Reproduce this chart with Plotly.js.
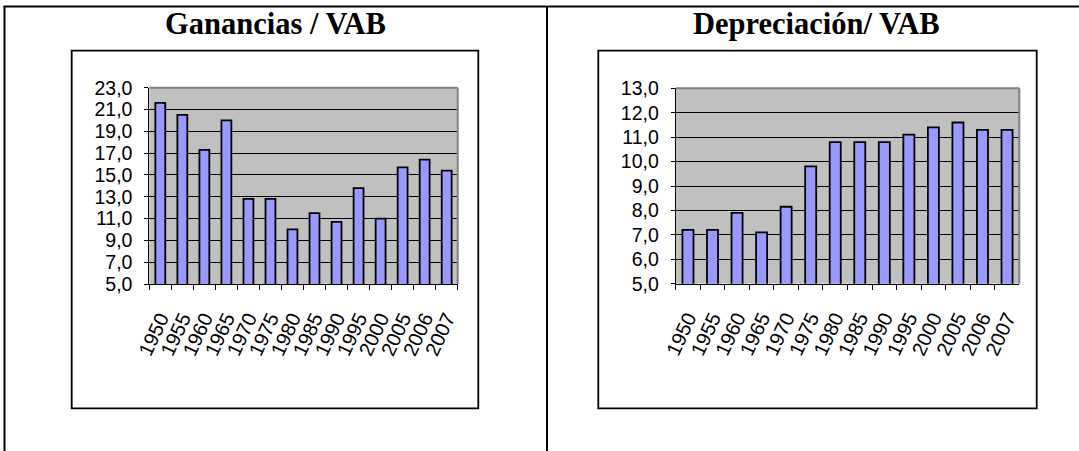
<!DOCTYPE html>
<html>
<head>
<meta charset="utf-8">
<script src="https://cdn.plot.ly/plotly-3.0.1.min.js"></script>
<style>
  html, body { margin: 0; padding: 0; background: #ffffff; }
  #chart { width: 1079px; height: 451px; }
</style>
</head>
<body>
<div id="chart"></div>
<script>
// ---- Data ----
const years = ["1950", "1955", "1960", "1965", "1970", "1975", "1980", "1985", "1990", "1995", "2000", "2005", "2006", "2007"];
const gananciasVAB = [21.6, 20.5, 17.3, 20.0, 12.8, 12.8, 10.0, 11.5, 10.7, 13.8, 11.0, 15.7, 16.4, 15.4];
const depreciacionVAB = [7.2, 7.2, 7.9, 7.1, 8.15, 9.8, 10.8, 10.8, 10.8, 11.1, 11.4, 11.6, 11.3, 11.3];
const titleLeft = "Ganancias / VAB";
const titleRight = "Depreciación/ VAB";

// ---- Geometry helpers (pixels -> paper fractions) ----
const W = 1079, H = 451;
const px = x => x / W;
const py = y => 1 - y / H;

const barStyle = { color: "#9999FF", line: { color: "#000000", width: 1.8 } };
const yTickFont = { family: "Liberation Sans, Arial, sans-serif", size: 19.5, color: "#000000" };
const xTickFont = { family: "Liberation Sans, Arial, sans-serif", size: 20, color: "#000000" };

const traces = [
  { type: "bar", x: years, y: gananciasVAB, xaxis: "x", yaxis: "y", marker: barStyle, hoverinfo: "x+y" },
  { type: "bar", x: years, y: depreciacionVAB, xaxis: "x2", yaxis: "y2", marker: barStyle, hoverinfo: "x+y" }
];

function xAxis(d0, d1, anchor) {
  return {
    type: "category", domain: [px(d0), px(d1)], anchor: anchor,
    tickmode: "linear", tick0: 0, dtick: 1,
    showline: true, linecolor: "#000000", linewidth: 1,
    ticks: "outside", ticklen: 5, tickcolor: "#000000", tickwidth: 1,
    tickson: "boundaries", tickangle: -65, tickfont: xTickFont,
    ticklabelstandoff: 14, showgrid: false, fixedrange: true
  };
}
function yAxis(d0, d1, anchor, range, dtick) {
  return {
    domain: [py(d1), py(d0)], anchor: anchor, range: range,
    tick0: range[0], dtick: dtick, tickformat: ".1f",
    showline: true, linecolor: "#000000", linewidth: 1,
    ticks: "outside", ticklen: 4, tickcolor: "#000000", tickwidth: 1,
    tickfont: yTickFont, ticklabelstandoff: 8,
    showgrid: true, gridcolor: "#000000", gridwidth: 1,
    zeroline: false, fixedrange: true
  };
}

const lineBlack = { color: "#000000", width: 2 };
const shapes = [
  // table lines
  { type: "line", xref: "paper", yref: "paper", x0: px(3.5), x1: px(1079), y0: py(6.5), y1: py(6.5), line: lineBlack },
  { type: "line", xref: "paper", yref: "paper", x0: px(4.5), x1: px(4.5), y0: py(6.5), y1: py(451), line: lineBlack },
  { type: "line", xref: "paper", yref: "paper", x0: px(547), x1: px(547), y0: py(6.5), y1: py(451), line: lineBlack },
  // chart boxes
  { type: "rect", xref: "paper", yref: "paper", x0: px(71.7), x1: px(478.3), y0: py(408.3), y1: py(50.7), line: { color: "#000000", width: 1.8 } },
  { type: "rect", xref: "paper", yref: "paper", x0: px(598.3), x1: px(1036.7), y0: py(408.3), y1: py(50.7), line: { color: "#000000", width: 1.8 } },
  // plot area gray borders (top & right)
  { type: "line", xref: "x domain", yref: "y domain", x0: 0, x1: 1, y0: 1, y1: 1, line: { color: "#808080", width: 2 } },
  { type: "line", xref: "x domain", yref: "y domain", x0: 1, x1: 1, y0: 0, y1: 1, line: { color: "#808080", width: 2 } },
  { type: "line", xref: "x2 domain", yref: "y2 domain", x0: 0, x1: 1, y0: 1, y1: 1, line: { color: "#808080", width: 2 } },
  { type: "line", xref: "x2 domain", yref: "y2 domain", x0: 1, x1: 1, y0: 0, y1: 1, line: { color: "#808080", width: 2 } }
];

const titleFont = { family: "Liberation Serif, Times New Roman, serif", size: 30.5, color: "#000000", weight: "bold" };
const annotations = [
  { xref: "paper", yref: "paper", x: px(275), y: py(24), xanchor: "center", yanchor: "middle", showarrow: false, text: "<b>" + titleLeft + "</b>", font: titleFont },
  { xref: "paper", yref: "paper", x: px(816), y: py(24), xanchor: "center", yanchor: "middle", showarrow: false, text: "<b>" + titleRight + "</b>", font: titleFont }
];

const layout = {
  width: W, height: H,
  margin: { l: 0, r: 0, t: 0, b: 0, pad: 0 },
  paper_bgcolor: "#FFFFFF", plot_bgcolor: "#C0C0C0",
  showlegend: false,
  separators: ", ",
  bargap: 0.55,
  xaxis: xAxis(149.3, 457.7, "y"),
  yaxis: yAxis(87.7, 284, "x", [5, 23], 2),
  xaxis2: xAxis(675.7, 1019.3, "y2"),
  yaxis2: yAxis(88.3, 283.7, "x2", [5, 13], 1),
  shapes: shapes,
  annotations: annotations
};

Plotly.newPlot("chart", traces, layout, { displayModeBar: false, staticPlot: true });
</script>
</body>
</html>
